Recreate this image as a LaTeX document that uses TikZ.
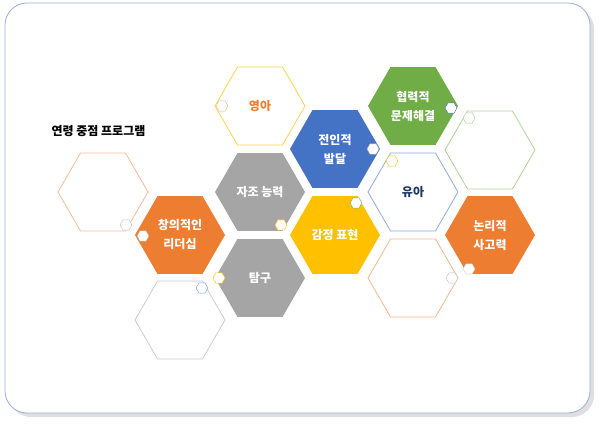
\documentclass[tikz,border=0pt]{standalone}
\usepackage{fontspec}
\newfontfamily\kr{Noto Sans CJK KR}
\definecolor{cblue}{HTML}{4472C4}
\definecolor{cgreen}{HTML}{70AD47}
\definecolor{corange}{HTML}{ED7D31}
\definecolor{cgold}{HTML}{FFC000}
\definecolor{cgray}{HTML}{A5A5A5}
\definecolor{cnavy}{HTML}{1F3864}
\newcommand\hexa[4]{\path[#4] ({#1-#3},#2) -- ({#1-#3/2},{#2-0.866*#3}) -- ({#1+#3/2},{#2-0.866*#3}) -- ({#1+#3},#2) -- ({#1+#3/2},{#2+0.866*#3}) -- ({#1-#3/2},{#2+0.866*#3}) -- cycle;}
\tikzset{lbl/.style={font=\kr\bfseries\fontsize{12}{14}\selectfont,align=center,text=white},
 big/.style={line width=0.8pt}}
\begin{document}
\begin{tikzpicture}[x=1pt,y=-1pt]
\useasboundingbox (0,0) rectangle (600,425);
\fill[gray!25,rounded corners=22] (9,7) rectangle (594,417);
\draw[fill=white,draw=cyan!40!blue!40,line width=0.8pt,rounded corners=22] (5,3) rectangle (590,413);
\node[font=\kr\bfseries\fontsize{12}{14}\selectfont,anchor=west] (title) at (48,131) {연령 중점 프로그램};
% big hexagons
\hexa{260}{106}{45}{big,draw=cgold!70,fill=white}
\hexa{413}{106}{45}{fill=cgreen}
\hexa{335}{149}{45}{fill=cblue}
\hexa{490}{150}{45}{big,draw=cgreen!55,fill=white}
\hexa{103}{192}{45}{big,draw=corange!50,fill=white}
\hexa{260}{192}{45}{fill=cgray}
\hexa{413}{192}{45}{big,draw=cblue!60,fill=white}
\hexa{180}{235}{45}{fill=corange}
\hexa{335}{235}{45}{fill=cgold}
\hexa{490}{235}{45}{fill=corange}
\hexa{260}{278}{45}{fill=cgray}
\hexa{413}{278}{45}{big,draw=corange!55,fill=white}
\hexa{180}{320}{45}{big,draw=gray!40,fill=white}
% small hexagons
\hexa{222}{106}{6}{draw=corange!60,fill=white}
\hexa{451}{108}{6}{draw=cblue,fill=white}
\hexa{373}{149}{6}{draw=gray!60,fill=white}
\hexa{469}{118}{6}{draw=cgreen!60,fill=white}
\hexa{126}{225}{6}{draw=gray!50,fill=white}
\hexa{281}{225}{6}{draw=cgold,fill=white}
\hexa{392}{161}{6}{draw=cgold,fill=white}
\hexa{143}{236}{6}{draw=gray!60,fill=white}
\hexa{356}{203}{6}{draw=cgreen,fill=white}
\hexa{469}{269}{6}{draw=gray!40,fill=white}
\hexa{219}{278}{6}{draw=cgold,fill=white}
\hexa{452}{278}{6}{draw=gray!50,fill=white}
\hexa{202}{288}{6}{draw=cblue!70,fill=white}
% labels
\node[lbl,text=corange] (ya) at (260,106) {영아};
\node[lbl] (hr) at (413,106) {협력적\\[5pt]문제해결};
\node[lbl] (ji) at (335,149) {전인적\\[5pt]발달};
\node[lbl] (jj) at (260,192) {자조 능력};
\node[lbl,text=cnavy] (ua) at (413,192) {유아};
\node[lbl] (cu) at (180,235) {창의적인\\[5pt]리더십};
\node[lbl] (gj) at (335,235) {감정 표현};
\node[lbl] (nr) at (490,235) {논리적\\[5pt]사고력};
\node[lbl] (tg) at (260,278) {탐구};
\end{tikzpicture}
\end{document}
